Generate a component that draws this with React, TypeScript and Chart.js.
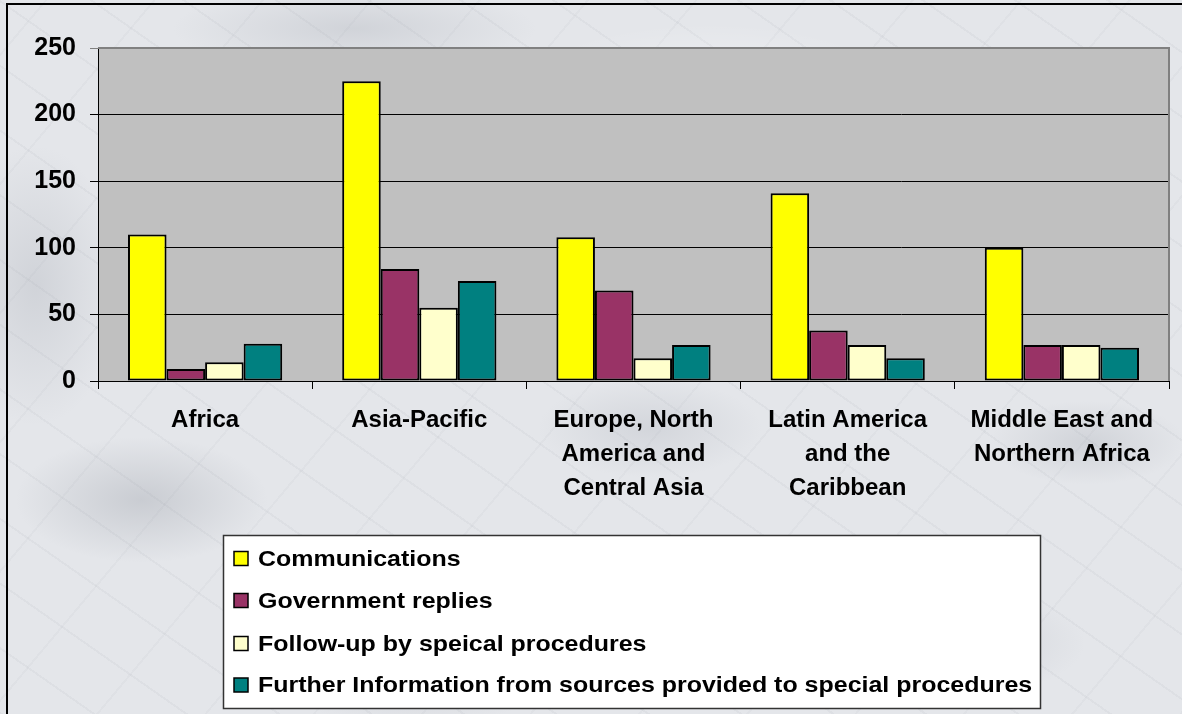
import React, { useEffect, useRef } from "react";
import { Chart, registerables } from "chart.js";

Chart.register(...registerables);

const categories: string[][] = [
  ["Africa"],
  ["Asia-Pacific"],
  ["Europe, North", "America and", "Central Asia"],
  ["Latin America", "and the", "Caribbean"],
  ["Middle East and", "Northern Africa"],
];
const seriesNames = [
  "Communications",
  "Government replies",
  "Follow-up by speical procedures",
  "Further Information from sources provided to special procedures",
];
const communications = [110, 225, 108, 141, 100];
const governmentReplies = [9, 84, 68, 38, 27];
const followUp = [14, 55, 17, 27, 27];
const furtherInfo = [28, 75, 27, 17, 25];
const yTicks = [0, 50, 100, 150, 200, 250];
const seriesColors = ["#FFFF00", "#993366", "#FFFFCC", "#008080"];

const FONT = '"Liberation Sans", Arial, sans-serif';

const W = 1182;
const H = 714;

const framePlugin = {
  id: "framePlugin",
  beforeDraw(chart: any) {
    const { ctx, chartArea } = chart;
    ctx.save();
    ctx.strokeStyle = "#000";
    ctx.lineWidth = 2;
    ctx.beginPath();
    ctx.moveTo(7, H);
    ctx.lineTo(7, 4);
    ctx.lineTo(W, 4);
    ctx.stroke();
    ctx.fillStyle = "#C0C0C0";
    ctx.fillRect(chartArea.left, chartArea.top, chartArea.right - chartArea.left, chartArea.bottom - chartArea.top);
    ctx.restore();
  },
  afterDatasetsDraw(chart: any) {
    const { ctx, chartArea } = chart;
    ctx.save();
    ctx.strokeStyle = "#808080";
    ctx.lineWidth = 2;
    ctx.beginPath();
    ctx.moveTo(chartArea.left, chartArea.top);
    ctx.lineTo(chartArea.right, chartArea.top);
    ctx.lineTo(chartArea.right, chartArea.bottom);
    ctx.stroke();
    ctx.restore();
  },
  afterDraw(chart: any) {
    const { ctx } = chart;
    ctx.save();
    const bx = 223.5, by = 535.5, bw = 817, bh = 173;
    ctx.fillStyle = "#FFFFFF";
    ctx.fillRect(bx, by, bw, bh);
    ctx.strokeStyle = "#333";
    ctx.lineWidth = 1.5;
    ctx.strokeRect(bx, by, bw, bh);
    const centers = [558.5, 600.5, 643.5, 685];
    chart.data.datasets.forEach((ds: any, i: number) => {
      const cy = centers[i];
      ctx.fillStyle = ds.backgroundColor;
      ctx.fillRect(234, cy - 7, 14, 14);
      ctx.strokeStyle = "#000";
      ctx.lineWidth = 1.5;
      ctx.strokeRect(234, cy - 7, 14, 14);
      ctx.save();
      ctx.translate(258, cy + 1);
      ctx.scale(1.135, 1);
      ctx.fillStyle = "#000";
      ctx.font = `bold 22px ${FONT}`;
      ctx.textBaseline = "middle";
      ctx.textAlign = "left";
      ctx.fillText(ds.label, 0, 0);
      ctx.restore();
    });
    ctx.restore();
  },
};

export default function App() {
  const ref = useRef<HTMLCanvasElement | null>(null);

  useEffect(() => {
    document.body.style.margin = "0";
    if (!ref.current) return;
    const values = [communications, governmentReplies, followUp, furtherInfo];
    const chart = new Chart(ref.current, {
      type: "bar",
      data: {
        labels: categories as any,
        datasets: seriesNames.map((name, i) => ({
          label: name,
          data: values[i],
          backgroundColor: seriesColors[i],
          borderColor: "#000000",
          borderWidth: 2,
          borderSkipped: false,
          categoryPercentage: 0.72,
          barPercentage: 1,
        })),
      },
      options: {
        animation: false,
        responsive: false,
        devicePixelRatio: 1,
        layout: { padding: { left: 0, top: 48, right: 13, bottom: 0 } },
        plugins: {
          legend: { display: false },
          tooltip: { enabled: false },
          title: { display: false },
        },
        scales: {
          x: {
            grid: {
              drawOnChartArea: false,
              drawTicks: true,
              tickLength: 8,
              color: "#000",
              offset: true,
            },
            border: { display: true, color: "#000", width: 1 },
            ticks: {
              font: { family: FONT, size: 24, weight: "bold", lineHeight: 1.42 },
              color: "#000",
              padding: 14,
              maxRotation: 0,
              autoSkip: false,
            },
            afterFit: (scale: any) => {
              scale.height = H - 381;
            },
          },
          y: {
            min: 0,
            max: 250,
            afterBuildTicks: (scale: any) => {
              scale.ticks = yTicks.map((v) => ({ value: v }));
            },
            grid: {
              color: (c: any) => (c.tick && c.tick.value === 250 ? "#808080" : "#000"),
              tickLength: 8,
              lineWidth: 1,
            },
            border: { display: true, color: "#000", width: 1 },
            ticks: {
              font: { family: FONT, size: 25, weight: "bold" },
              color: "#000",
              padding: 14,
            },
            afterFit: (scale: any) => {
              scale.width = 98;
            },
          },
        },
      },
      plugins: [framePlugin],
    });
    return () => chart.destroy();
  }, []);

  const marble = [
    "radial-gradient(ellipse 180px 90px at 12% 70%, rgba(140,145,155,0.30), transparent 70%)",
    "radial-gradient(ellipse 220px 100px at 35% 92%, rgba(150,155,165,0.30), transparent 70%)",
    "radial-gradient(ellipse 200px 80px at 80% 90%, rgba(150,155,165,0.25), transparent 70%)",
    "radial-gradient(ellipse 160px 70px at 55% 60%, rgba(160,165,175,0.25), transparent 70%)",
    "radial-gradient(ellipse 140px 60px at 92% 62%, rgba(150,155,165,0.25), transparent 70%)",
    "radial-gradient(ellipse 260px 60px at 30% 4%, rgba(150,155,165,0.25), transparent 70%)",
    "radial-gradient(ellipse 120px 200px at 3% 40%, rgba(150,155,165,0.25), transparent 70%)",
    "radial-gradient(ellipse 300px 120px at 60% 15%, rgba(255,255,255,0.5), transparent 70%)",
    "repeating-linear-gradient(35deg, rgba(140,145,155,0.08) 0px, rgba(140,145,155,0.08) 2px, transparent 2px, transparent 53px)",
    "repeating-linear-gradient(-50deg, rgba(140,145,155,0.06) 0px, rgba(140,145,155,0.06) 2px, transparent 2px, transparent 83px)",
  ].join(",");

  return (
    <div
      style={{
        width: W,
        height: H,
        position: "relative",
        overflow: "hidden",
        backgroundColor: "#E4E6EA",
        backgroundImage: marble,
      }}
    >
      <canvas ref={ref} width={W} height={H} style={{ display: "block", width: W, height: H }} />
    </div>
  );
}
